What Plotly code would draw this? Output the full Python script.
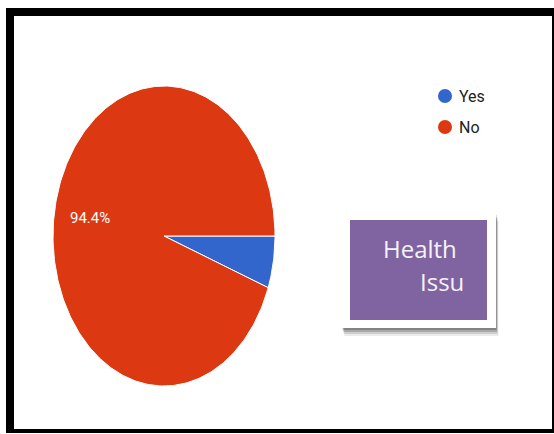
import numpy as np
import plotly.graph_objects as go

# Survey answers
categories = ["Yes", "No"]
values = [5.6, 94.4]
colors = ["#3366CC", "#DC3912"]
box_lines = ["Health", "Issu"]

W, H = 554, 434
cx, cy, rx, ry = 164, 236, 111, 150  # pie centre and radii (pixel space)

fig = go.Figure()

# Frame: black border with white inner area
fig.add_shape(type="rect", x0=6, y0=8, x1=554, y1=433, fillcolor="black",
              line_width=0, layer="below")
fig.add_shape(type="rect", x0=14, y0=16, x1=552, y1=429, fillcolor="white",
              line_width=0, layer="below")

# Pie slices, clockwise from 3 o'clock
total = sum(values)
start = 0.0
label_pos = []
for name, v, c in zip(categories, values, colors):
    sweep = 2 * np.pi * v / total
    t = np.linspace(start, start + sweep, max(int(sweep * 60), 4))
    xs = np.concatenate([[cx], cx + rx * np.cos(t), [cx]])
    ys = np.concatenate([[cy], cy + ry * np.sin(t), [cy]])
    fig.add_trace(go.Scatter(x=xs, y=ys, mode="lines", fill="toself",
                             fillcolor=c, line=dict(color="white", width=1),
                             hoverinfo="skip", showlegend=False))
    mid = start + sweep / 2
    label_pos.append((cx + 0.68 * rx * np.cos(mid), cy + 0.68 * ry * np.sin(mid), v))
    start += sweep

# Percentage label on the large slice only
for (lx, ly, v) in label_pos:
    if v / total > 0.1:
        fig.add_annotation(x=lx, y=ly, text=f"{v:.1f}%", showarrow=False,
                           font=dict(family="Liberation Sans Narrow, Roboto, Arial",
                                     size=15, color="white"))

# Legend
leg_y = [96, 127]
fig.add_trace(go.Scatter(x=[445, 445], y=leg_y, mode="markers",
                         marker=dict(color=colors, size=14, line_width=0),
                         hoverinfo="skip", showlegend=False))
for name, yy in zip(categories, leg_y):
    fig.add_annotation(x=457, y=yy, text=name, showarrow=False, xanchor="left",
                       font=dict(family="Liberation Sans Narrow, Roboto, Arial",
                                 size=16, color="#222222"))

# Caption box with soft shadow
for off, a in [(8, 0.08), (6, 0.12), (4, 0.18), (2, 0.22)]:
    fig.add_shape(type="rect", x0=342 + off * 0.3, y0=213 + off, x1=496 + off * 0.3,
                  y1=328 + off, fillcolor=f"rgba(0,0,0,{a})", line_width=0)
fig.add_shape(type="rect", x0=342, y0=213, x1=496, y1=328,
              fillcolor="white", line_width=0)
fig.add_shape(type="rect", x0=350, y0=220, x1=487, y1=320,
              fillcolor="#8064A2", line_width=0)
fig.add_annotation(x=459, y=248, text=box_lines[0], showarrow=False, xanchor="right",
                   font=dict(family="Open Sans, Noto Sans", size=24, color="#F6F2FA"))
fig.add_annotation(x=466, y=281, text=box_lines[1], showarrow=False, xanchor="right",
                   font=dict(family="Open Sans, Noto Sans", size=24, color="#F6F2FA"))

fig.update_layout(
    width=W, height=H, margin=dict(l=0, r=0, t=0, b=0),
    paper_bgcolor="white", plot_bgcolor="white",
    xaxis=dict(range=[0, W], visible=False, fixedrange=True),
    yaxis=dict(range=[H, 0], visible=False, fixedrange=True),
    showlegend=False,
)

fig.write_html("out.html")
